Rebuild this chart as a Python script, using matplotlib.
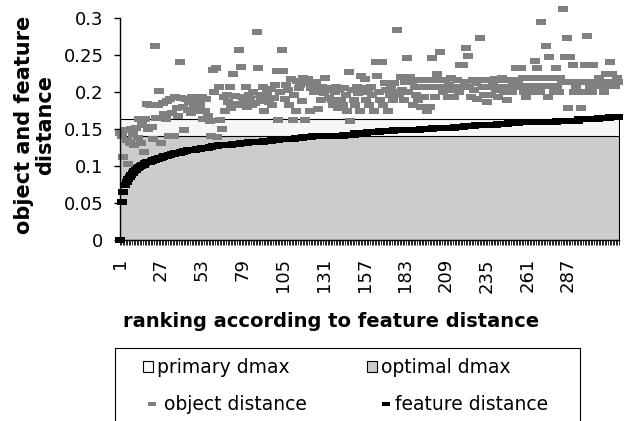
import matplotlib
matplotlib.use("Agg")
import matplotlib.pyplot as plt
import numpy as np
from matplotlib.patches import Patch, Rectangle
from matplotlib.lines import Line2D

# values (index = rank 1..319)
object_distance = [
    0.145, 0.140, 0.112, 0.148, 0.135, 0.103, 0.131, 0.150, 0.143, 0.128,
    0.152, 0.138, 0.164, 0.131, 0.155, 0.119, 0.164, 0.184, 0.150, 0.182,
    0.153, 0.136, 0.262, 0.165, 0.182, 0.202, 0.131, 0.185, 0.170, 0.164,
    0.188, 0.141, 0.190, 0.172, 0.141, 0.193, 0.178, 0.167, 0.240, 0.192,
    0.180, 0.148, 0.190, 0.176, 0.186, 0.171, 0.193, 0.178, 0.185, 0.174,
    0.191, 0.182, 0.193, 0.164, 0.175, 0.190, 0.167, 0.161, 0.140, 0.230,
    0.200, 0.232, 0.139, 0.207, 0.162, 0.150, 0.193, 0.174, 0.196, 0.186,
    0.207, 0.178, 0.224, 0.195, 0.184, 0.182, 0.257, 0.234, 0.193, 0.188,
    0.207, 0.180, 0.196, 0.190, 0.182, 0.200, 0.185, 0.281, 0.232, 0.196,
    0.188, 0.207, 0.174, 0.193, 0.198, 0.186, 0.204, 0.182, 0.192, 0.210,
    0.228, 0.162, 0.200, 0.257, 0.228, 0.190, 0.210, 0.203, 0.182, 0.217,
    0.162, 0.196, 0.174, 0.215, 0.205, 0.210, 0.188, 0.219, 0.162, 0.212,
    0.218, 0.174, 0.206, 0.210, 0.200, 0.214, 0.177, 0.203, 0.189, 0.207,
    0.198, 0.219, 0.203, 0.192, 0.205, 0.189, 0.182, 0.200, 0.207, 0.178,
    0.203, 0.189, 0.182, 0.205, 0.196, 0.175, 0.227, 0.161, 0.203, 0.189,
    0.182, 0.207, 0.198, 0.175, 0.222, 0.205, 0.218, 0.189, 0.200, 0.182,
    0.207, 0.196, 0.175, 0.241, 0.222, 0.200, 0.189, 0.241, 0.182, 0.212,
    0.203, 0.175, 0.196, 0.207, 0.189, 0.212, 0.200, 0.284, 0.196, 0.220,
    0.203, 0.189, 0.213, 0.246, 0.200, 0.220, 0.213, 0.182, 0.207, 0.196,
    0.189, 0.216, 0.180, 0.207, 0.193, 0.216, 0.175, 0.207, 0.180, 0.246,
    0.216, 0.193, 0.224, 0.207, 0.254, 0.216, 0.200, 0.207, 0.216, 0.193,
    0.210, 0.219, 0.203, 0.193, 0.207, 0.216, 0.200, 0.236, 0.207, 0.236,
    0.214, 0.259, 0.249, 0.207, 0.193, 0.216, 0.203, 0.212, 0.190, 0.216,
    0.273, 0.207, 0.196, 0.216, 0.186, 0.207, 0.216, 0.196, 0.210, 0.218,
    0.203, 0.193, 0.216, 0.207, 0.219, 0.200, 0.216, 0.189, 0.207, 0.216,
    0.200, 0.213, 0.207, 0.232, 0.216, 0.208, 0.232, 0.219, 0.200, 0.193,
    0.219, 0.208, 0.219, 0.200, 0.219, 0.242, 0.232, 0.208, 0.200, 0.295,
    0.219, 0.208, 0.262, 0.193, 0.247, 0.208, 0.219, 0.200, 0.232, 0.208,
    0.200, 0.219, 0.213, 0.312, 0.247, 0.273, 0.178, 0.247, 0.213, 0.237,
    0.200, 0.208, 0.213, 0.200, 0.178, 0.213, 0.200, 0.237, 0.276, 0.213,
    0.208, 0.200, 0.237, 0.213, 0.208, 0.213, 0.219, 0.208, 0.213, 0.200,
    0.224, 0.213, 0.208, 0.240, 0.224, 0.213, 0.208, 0.219, 0.213,
]

feature_distance = [
    0.000, 0.051, 0.065, 0.075, 0.079, 0.082, 0.085, 0.088, 0.091, 0.093,
    0.095, 0.097, 0.099, 0.100, 0.101, 0.102, 0.104, 0.105, 0.106, 0.106,
    0.107, 0.108, 0.108, 0.109, 0.110, 0.111, 0.111, 0.112, 0.113, 0.113,
    0.114, 0.115, 0.115, 0.116, 0.116, 0.117, 0.117, 0.118, 0.118, 0.119,
    0.119, 0.120, 0.120, 0.121, 0.121, 0.121, 0.122, 0.122, 0.122, 0.123,
    0.123, 0.123, 0.124, 0.124, 0.124, 0.125, 0.125, 0.126, 0.126, 0.127,
    0.127, 0.127, 0.127, 0.128, 0.128, 0.128, 0.128, 0.129, 0.129, 0.129,
    0.129, 0.129, 0.130, 0.130, 0.130, 0.130, 0.130, 0.131, 0.131, 0.131,
    0.131, 0.131, 0.132, 0.132, 0.132, 0.132, 0.132, 0.133, 0.133, 0.133,
    0.133, 0.133, 0.134, 0.134, 0.134, 0.134, 0.134, 0.135, 0.135, 0.135,
    0.135, 0.135, 0.136, 0.136, 0.136, 0.136, 0.136, 0.137, 0.137, 0.137,
    0.137, 0.137, 0.138, 0.138, 0.138, 0.138, 0.138, 0.139, 0.139, 0.139,
    0.139, 0.139, 0.139, 0.140, 0.140, 0.140, 0.140, 0.140, 0.140, 0.140,
    0.140, 0.140, 0.140, 0.140, 0.140, 0.141, 0.141, 0.141, 0.141, 0.141,
    0.141, 0.141, 0.141, 0.142, 0.142, 0.142, 0.142, 0.142, 0.142, 0.142,
    0.145, 0.145, 0.145, 0.145, 0.145, 0.145, 0.145, 0.145, 0.146, 0.146,
    0.146, 0.146, 0.146, 0.146, 0.146, 0.146, 0.147, 0.147, 0.147, 0.147,
    0.147, 0.147, 0.147, 0.147, 0.147, 0.148, 0.148, 0.148, 0.148, 0.148,
    0.148, 0.148, 0.148, 0.148, 0.149, 0.149, 0.149, 0.149, 0.149, 0.149,
    0.149, 0.149, 0.150, 0.150, 0.150, 0.150, 0.150, 0.150, 0.150, 0.150,
    0.151, 0.151, 0.151, 0.151, 0.151, 0.151, 0.151, 0.152, 0.152, 0.152,
    0.152, 0.152, 0.152, 0.152, 0.153, 0.153, 0.153, 0.153, 0.153, 0.153,
    0.154, 0.154, 0.154, 0.154, 0.154, 0.154, 0.154, 0.155, 0.155, 0.155,
    0.155, 0.155, 0.155, 0.155, 0.156, 0.156, 0.156, 0.156, 0.156, 0.156,
    0.156, 0.157, 0.157, 0.157, 0.157, 0.157, 0.157, 0.157, 0.158, 0.158,
    0.158, 0.158, 0.158, 0.158, 0.158, 0.159, 0.159, 0.159, 0.159, 0.159,
    0.159, 0.159, 0.159, 0.159, 0.159, 0.160, 0.160, 0.160, 0.160, 0.160,
    0.160, 0.160, 0.160, 0.160, 0.160, 0.160, 0.160, 0.160, 0.160, 0.161,
    0.161, 0.161, 0.161, 0.161, 0.161, 0.161, 0.161, 0.161, 0.161, 0.161,
    0.161, 0.161, 0.161, 0.163, 0.163, 0.163, 0.163, 0.163, 0.163, 0.164,
    0.164, 0.164, 0.164, 0.164, 0.164, 0.164, 0.165, 0.165, 0.165, 0.165,
    0.165, 0.165, 0.165, 0.166, 0.166, 0.166, 0.166, 0.166, 0.166,
]

primary_dmax = 0.1635
optimal_dmax = 0.1405

x_tick_labels = [1, 27, 53, 79, 105, 131, 157, 183, 209, 235, 261, 287]
y_ticks = [0, 0.05, 0.1, 0.15, 0.2, 0.25, 0.3]
y_tick_labels = ["0", "0.05", "0.1", "0.15", "0.2", "0.25", "0.3"]

W, H = 627, 421
n = len(object_distance)
x_obj = np.arange(1, n + 1)
x_feat = np.arange(1, len(feature_distance) + 1)

fig = plt.figure(figsize=(W / 100, H / 100), dpi=100)
ax = fig.add_axes([119.5 / W, 1 - 240 / H, 499.5 / W, 222 / H])

dash = [(-1, -0.55), (1, -0.55), (1, 0.55), (-1, 0.55)]
gray = "#808080"

# the two dmax levels as Excel-like area series
edges = [0.5, n + 0.5]
ax.fill_between(edges, 0, primary_dmax, facecolor="#f7f7f7",
                edgecolor="black", linewidth=0.8, zorder=1)
ax.fill_between(edges, 0, optimal_dmax, facecolor="#cccccc",
                edgecolor="black", linewidth=0.8, zorder=2)

ax.plot(x_obj, object_distance, ls="none", marker=dash, ms=7.2,
        mfc=gray, mec=gray, mew=0, zorder=3, clip_on=False)
ax.plot(x_feat, feature_distance, ls="none", marker=dash, ms=7.2,
        mfc="black", mec="black", mew=0, zorder=4, clip_on=False)

ax.set_xlim(0.5, n + 0.5)
ax.set_ylim(0, 0.3)
for side in ["top", "right"]:
    ax.spines[side].set_visible(False)
for side in ["left", "bottom"]:
    ax.spines[side].set_linewidth(1.0)
    ax.spines[side].set_zorder(5)

ax.set_xticks(x_tick_labels)
ax.set_xticklabels([str(m) for m in x_tick_labels], rotation=90, fontsize=13)
ax.set_xticks(np.arange(0.5, n + 1, 1), minor=True)
ax.tick_params(axis="x", which="major", length=0, pad=13)
ax.tick_params(axis="x", which="minor", length=3.5, width=0.6, direction="out")

ax.set_yticks(y_ticks)
ax.set_yticklabels(y_tick_labels, fontsize=13)
ax.tick_params(axis="y", length=4.5, width=1.0, pad=7)

ax.set_xlabel("ranking according to feature distance", fontsize=14,
              fontweight="bold")
ax.xaxis.set_label_coords(0.424, -0.369)
ax.xaxis.label.set_va("center")
ax.set_ylabel("object and feature\ndistance", fontsize=15, fontweight="bold",
              linespacing=1.1)
ax.yaxis.set_label_coords(-0.170, 0.518)
ax.yaxis.label.set_va("center")

# legend: frame plus one key per entry, placed like the reference
fig.add_artist(Rectangle((115 / W, 1 - 426 / H), 465 / W, 78 / H,
                         transform=fig.transFigure, fill=False,
                         edgecolor="black", linewidth=0.8))

fs = 13.5
fs_px = fs * 100 / 72


def add_key(handle, label, left_px, y_px, hlen_px, text_px):
    fig.legend([handle], [label], loc="center left",
               bbox_to_anchor=(left_px / W, 1 - y_px / H),
               frameon=False, borderpad=0, borderaxespad=0,
               fontsize=fs, handlelength=hlen_px / fs_px,
               handleheight=0.58,
               handletextpad=(text_px - left_px - hlen_px) / fs_px)


add_key(Patch(facecolor="#f7f7f7", edgecolor="black", linewidth=0.8),
        "primary dmax", 143, 367.5, 10, 157)
add_key(Patch(facecolor="#cccccc", edgecolor="black", linewidth=0.8),
        "optimal dmax", 367, 367.5, 10, 381)
add_key(Line2D([], [], ls="none", marker=dash, ms=5.5, mfc=gray, mec=gray,
               mew=0), "object distance", 146, 405, 11, 164)
add_key(Line2D([], [], ls="none", marker=dash, ms=5.5, mfc="black",
               mec="black", mew=0), "feature distance", 381, 405, 11, 395)

fig.savefig("out.png", dpi=100)
